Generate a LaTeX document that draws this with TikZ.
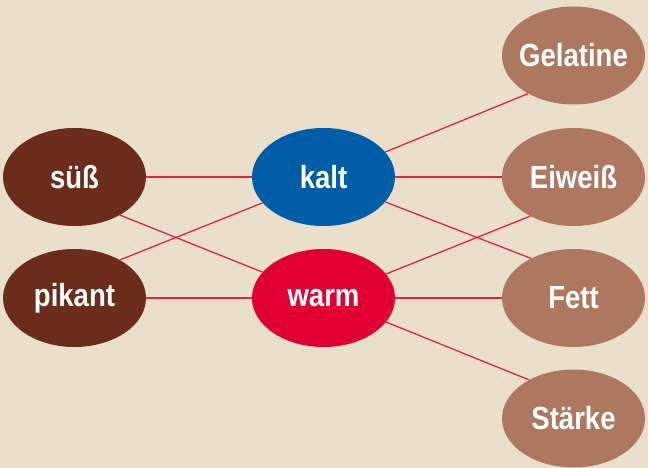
\documentclass[tikz,border=0pt]{standalone}
\usepackage{fontspec}
\setmainfont{Liberation Sans}[FakeStretch=0.86]
\usetikzlibrary{shapes.geometric}

\definecolor{bgbeige}{RGB}{234,223,203}
\definecolor{darkbrown}{RGB}{107,44,27}
\definecolor{lightbrown}{RGB}{174,120,96}
\definecolor{coldblue}{RGB}{0,94,168}
\definecolor{warmred}{RGB}{225,0,50}
\definecolor{linkred}{RGB}{225,35,70}

\begin{document}
\begin{tikzpicture}[x=1pt, y=-1pt,
  blob/.style={ellipse, minimum width=143pt, minimum height=98pt, inner xsep=-10pt, inner ysep=0pt,
    text=white, font=\fontsize{32}{32}\selectfont\bfseries},
  link/.style={linkred, line width=1.3pt}]
\fill[bgbeige] (0,0) rectangle (648,468);
\useasboundingbox (0,0) rectangle (648,468);
% left column
\node[blob, fill=darkbrown] (suess) at (74.5,177) {süß};
\node[blob, fill=darkbrown] (pikant) at (74.5,298) {pikant};
% middle column
\node[blob, fill=coldblue] (kalt) at (323.5,177) {kalt};
\node[blob, fill=warmred] (warm) at (323.5,298) {warm};
% right column
\node[blob, fill=lightbrown] (gelatine) at (573.5,55.5) {Gelatine};
\node[blob, fill=lightbrown] (eiweiss) at (573.5,177) {Eiweiß};
\node[blob, fill=lightbrown] (fett) at (573.5,298) {Fett};
\node[blob, fill=lightbrown] (staerke) at (573.5,418.5) {Stärke};
% links
\draw[link] (suess) -- (kalt);
\draw[link] (pikant) -- (warm);
\draw[link] (suess.-40) -- (warm.157);
\draw[link] (pikant.40) -- (kalt.203);
\draw[link] (kalt) -- (eiweiss);
\draw[link] (warm) -- (fett);
\draw[link] (kalt.22) -- (gelatine.220);
\draw[link] (kalt.-22) -- (fett.137);
\draw[link] (warm.21) -- (eiweiss.222);
\draw[link] (warm.-21) -- (staerke.139);
\end{tikzpicture}
\end{document}
